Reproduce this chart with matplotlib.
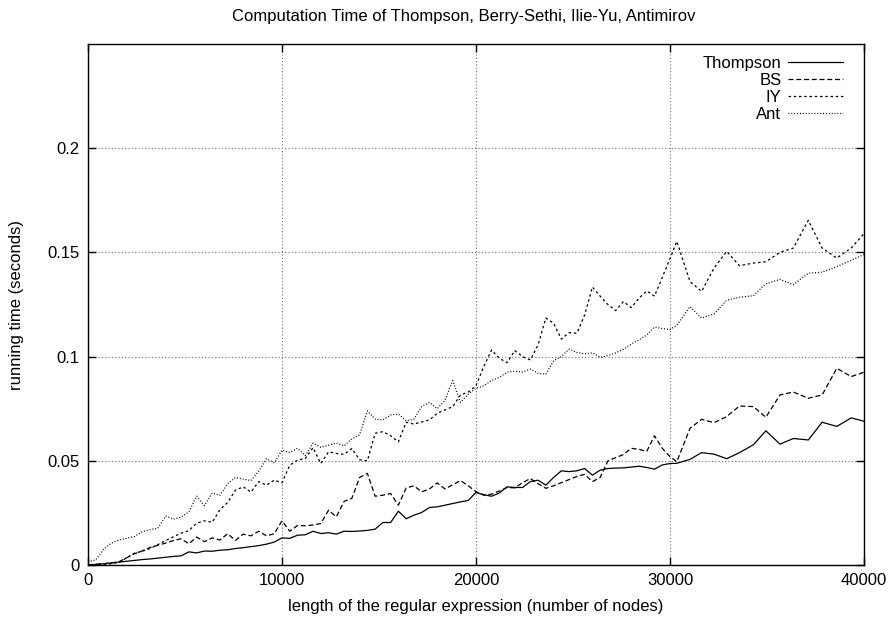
import numpy as np
import matplotlib
matplotlib.use("Agg")
import matplotlib.pyplot as plt

plt.rcParams['font.family'] = ['Liberation Sans', 'DejaVu Sans']

# длина регулярного выражения (число узлов)
nodes = list(range(0, 30001, 400)) + [30350, 31030, 31630, 32270, 32920, 33580, 34300,
                                      34940, 35670, 36360, 37130, 37840, 38600, 39340, 40000]

thompson = [0.0, 0.0003, 0.0006, 0.001, 0.0014, 0.0018, 0.0022, 0.0026, 0.0029, 0.0033,
            0.0037, 0.0041, 0.0044, 0.0063, 0.0058, 0.0067, 0.0066, 0.0071, 0.0073, 0.0079,
            0.0083, 0.0088, 0.0093, 0.0100, 0.0110, 0.0130, 0.0128, 0.0143, 0.0145, 0.0162,
            0.0151, 0.0155, 0.0148, 0.0162, 0.0161, 0.0163, 0.0166, 0.0172, 0.0204, 0.0204,
            0.0258, 0.0222, 0.0239, 0.0252, 0.0276, 0.0279, 0.0287, 0.0295, 0.0303, 0.0310,
            0.0348, 0.0337, 0.0330, 0.0345, 0.0375, 0.0372, 0.0372, 0.0400, 0.0407, 0.0383,
            0.0420, 0.0452, 0.0448, 0.0452, 0.0463, 0.0431, 0.0455, 0.0463, 0.0465, 0.0466,
            0.0470, 0.0474, 0.0468, 0.0460, 0.0480, 0.0487,
            0.0488, 0.0507, 0.0539, 0.0532, 0.0510, 0.0539, 0.0577, 0.0644, 0.0580, 0.0607,
            0.0600, 0.0685, 0.0665, 0.0706, 0.0690]

bs = [0.0, 0.0003, 0.0006, 0.001, 0.0016, 0.0035, 0.0054, 0.0068, 0.0084, 0.0095,
      0.0105, 0.0117, 0.0126, 0.0102, 0.0134, 0.0112, 0.0130, 0.0120, 0.0150, 0.0118,
      0.0148, 0.0140, 0.0162, 0.0140, 0.0150, 0.0212, 0.0162, 0.0190, 0.0188, 0.0192,
      0.0199, 0.0263, 0.0231, 0.0305, 0.0320, 0.0420, 0.0440, 0.0330, 0.0335, 0.0343,
      0.0287, 0.0370, 0.0380, 0.0351, 0.0365, 0.0394, 0.0365, 0.0385, 0.0405, 0.0380,
      0.0352, 0.0335, 0.0340, 0.0355, 0.0372, 0.0370, 0.0395, 0.0415, 0.0390, 0.0368,
      0.0380, 0.0395, 0.0410, 0.0425, 0.0435, 0.0400, 0.0420, 0.0500, 0.0515, 0.0530,
      0.0560, 0.0555, 0.0545, 0.0620, 0.0560, 0.0520,
      0.0495, 0.0656, 0.0699, 0.0683, 0.0712, 0.0763, 0.0760, 0.0709, 0.0816, 0.0830,
      0.0800, 0.0816, 0.0944, 0.0904, 0.0925]

iy = [0.0, 0.0002, 0.0004, 0.0006, 0.0012, 0.0035, 0.0057, 0.0066, 0.0079, 0.0098,
      0.0117, 0.0135, 0.0153, 0.0165, 0.0200, 0.0212, 0.0205, 0.0265, 0.0300, 0.0359,
      0.0375, 0.0350, 0.0400, 0.0383, 0.0407, 0.0395, 0.0479, 0.0503, 0.0511, 0.0563,
      0.0487, 0.0543, 0.0535, 0.0531, 0.0559, 0.0505, 0.0500, 0.0632, 0.0640, 0.0620,
      0.0591, 0.0685, 0.0676, 0.0686, 0.0696, 0.0728, 0.0744, 0.0760, 0.0816, 0.0830,
      0.0860, 0.0952, 0.1032, 0.0992, 0.0971, 0.1029, 0.1000, 0.0984, 0.1056, 0.1185,
      0.1160, 0.1084, 0.1115, 0.1112, 0.1200, 0.1334, 0.1290, 0.1250, 0.1221, 0.1264,
      0.1235, 0.1280, 0.1315, 0.1290, 0.1380, 0.1470,
      0.1553, 0.1360, 0.1313, 0.1425, 0.1505, 0.1436, 0.1449, 0.1455, 0.1500, 0.1521,
      0.1654, 0.1521, 0.1473, 0.1521, 0.1590]

ant = [0.0015, 0.0025, 0.0075, 0.0105, 0.0120, 0.0128, 0.0137, 0.0160, 0.0170, 0.0176,
       0.0235, 0.0220, 0.0230, 0.0255, 0.0330, 0.0285, 0.0345, 0.0335, 0.0390, 0.0420,
       0.0412, 0.0405, 0.0450, 0.0510, 0.0490, 0.0551, 0.0540, 0.0560, 0.0525, 0.0585,
       0.0565, 0.0575, 0.0585, 0.0572, 0.0605, 0.0625, 0.0740, 0.0700, 0.0696, 0.0720,
       0.0725, 0.0692, 0.0700, 0.0760, 0.0780, 0.0750, 0.0790, 0.0885, 0.0780, 0.0820,
       0.0848, 0.0860, 0.0885, 0.0900, 0.0925, 0.0930, 0.0926, 0.0940, 0.0920, 0.0915,
       0.0980, 0.1000, 0.1036, 0.1020, 0.1013, 0.1018, 0.0997, 0.1005, 0.1018, 0.1035,
       0.1060, 0.1080, 0.1104, 0.1141, 0.1135, 0.1130,
       0.1150, 0.1240, 0.1185, 0.1205, 0.1270, 0.1285, 0.1292, 0.1350, 0.1370, 0.1345,
       0.1400, 0.1405, 0.1432, 0.1462, 0.1490]

fig = plt.figure(figsize=(8.88, 6.17), dpi=100)
ax = fig.add_axes([88/888, 1 - 565/617, (864 - 88)/888, (565 - 44)/617])

lw = 0.9
ax.plot(nodes, thompson, color='black', lw=lw, label='Thompson')
ax.plot(nodes, bs, color='black', lw=lw, linestyle=(0, (4, 2.2)), label='BS')
ax.plot(nodes, iy, color='black', lw=lw, linestyle=(0, (2, 2.2)), label='IY')
ax.plot(nodes, ant, color='black', lw=lw, linestyle=(0, (0.8, 1.5)), label='Ant')

ax.set_xlim(0, 40000)
ax.set_ylim(0, 0.25)
ax.set_xticks([0, 10000, 20000, 30000, 40000])
ax.set_yticks([0, 0.05, 0.1, 0.15, 0.2])
ax.set_yticklabels(['0', '0.05', '0.1', '0.15', '0.2'])
ax.tick_params(direction='in', length=6, width=1, top=True, right=True,
               labelsize=12, pad=6, colors='black')
ax.grid(True, linestyle=(0, (1, 2)), color='#707070', lw=0.8)
for s in ax.spines.values():
    s.set_linewidth(1.0)

ax.set_xlabel('length of the regular expression (number of nodes)', fontsize=12, labelpad=8)
ax.set_ylabel('running time (seconds)', fontsize=12, labelpad=17)
fig.text(464/888, 1 - 17/617, 'Computation Time of Thompson, Berry-Sethi, Ilie-Yu, Antimirov',
         ha='center', va='center', fontsize=12)

ax.legend(loc='upper right', frameon=False, markerfirst=False, fontsize=12,
          handlelength=3.3, handletextpad=0.4, labelspacing=0.12,
          bbox_to_anchor=(1 - 21/776, 1 - 12/521), borderaxespad=0, borderpad=0)

fig.savefig('out.png', dpi=100)
